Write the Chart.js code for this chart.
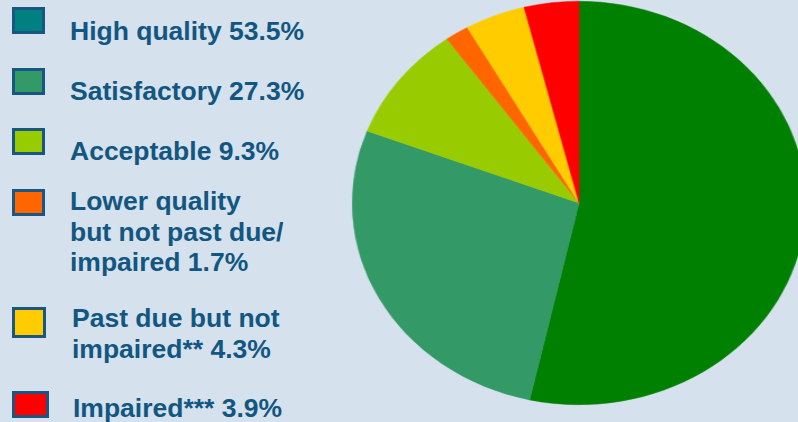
<!DOCTYPE html>
<html>
<head>
<meta charset="utf-8">
<script src="https://cdn.jsdelivr.net/npm/chart.js@4.4.0/dist/chart.umd.min.js"></script>
<style>
  html, body { margin: 0; padding: 0; }
  body { width: 798px; height: 422px; background: #d5e1ed; overflow: hidden; position: relative;
         font-family: "Liberation Sans", Arial, sans-serif; }
  #pieWrap { position: absolute; left: 369px; top: -7px; width: 420px; height: 420px;
             transform: scaleX(1.124); transform-origin: 210px 210px; }
  .box { position: absolute; box-sizing: border-box; border: 3px solid #175782; }
  .lbl { position: absolute; color: #125682; font-weight: bold; font-size: 26.5px; line-height: 30.5px; white-space: nowrap; }
</style>
</head>
<body>
<div id="legend"></div>
<div id="pieWrap"><canvas id="myChart"></canvas></div>
<script>
// categories and shares (%)
const categories = ['High quality', 'Satisfactory', 'Acceptable', 'Lower quality\nbut not past due/\nimpaired', 'Past due but not\nimpaired**', 'Impaired***'];
const shares = [53.5, 27.3, 9.3, 1.7, 4.3, 3.9];
const sliceColors = ['#008000', '#339966', '#99cc00', '#ff6600', '#ffcc00', '#ff0000'];
const legendColors = ['#008080', '#339966', '#99cc00', '#ff6600', '#ffcc00', '#ff0000'];

// legend layout (box top/height, text left/top)
const legendPos = [
    { by: 7, bh: 27, bw: 33, tx: 70, ty: 16 },
    { by: 68, bh: 27, bw: 33, tx: 70, ty: 76 },
    { by: 128, bh: 27, bw: 33, tx: 70, ty: 136 },
    { by: 189, bh: 27, bw: 33, tx: 70, ty: 186 },
    { by: 307, bh: 31, bw: 34, tx: 72, ty: 303 },
    { by: 391, bh: 27, bw: 37, tx: 73, ty: 393 }
];

function buildLegend() {
    const el = document.getElementById('legend');
    categories.forEach((c, i) => {
        const p = legendPos[i];
        const b = document.createElement('div');
        b.className = 'box';
        b.style.left = '12px';
        b.style.top = p.by + 'px';
        b.style.width = p.bw + 'px';
        b.style.height = p.bh + 'px';
        b.style.background = legendColors[i];
        el.appendChild(b);

        const t = document.createElement('div');
        t.className = 'lbl';
        t.style.left = p.tx + 'px';
        t.style.top = p.ty + 'px';
        t.innerHTML = (c + ' ' + shares[i].toFixed(1) + '%').split('\n').join('<br>');
        el.appendChild(t);
    });
}

function init() {
    buildLegend();
    const ctx = document.getElementById('myChart').getContext('2d');
    new Chart(ctx, {
        type: 'pie',
        data: {
            labels: categories,
            datasets: [{
                data: shares,
                backgroundColor: sliceColors,
                borderColor: sliceColors,
                borderWidth: 0.5
            }]
        },
        options: {
            responsive: true,
            maintainAspectRatio: false,
            animation: false,
            layout: { padding: 8 },
            plugins: {
                legend: { display: false },
                tooltip: { enabled: false }
            }
        }
    });
}

window.addEventListener('DOMContentLoaded', init);
</script>
</body>
</html>
